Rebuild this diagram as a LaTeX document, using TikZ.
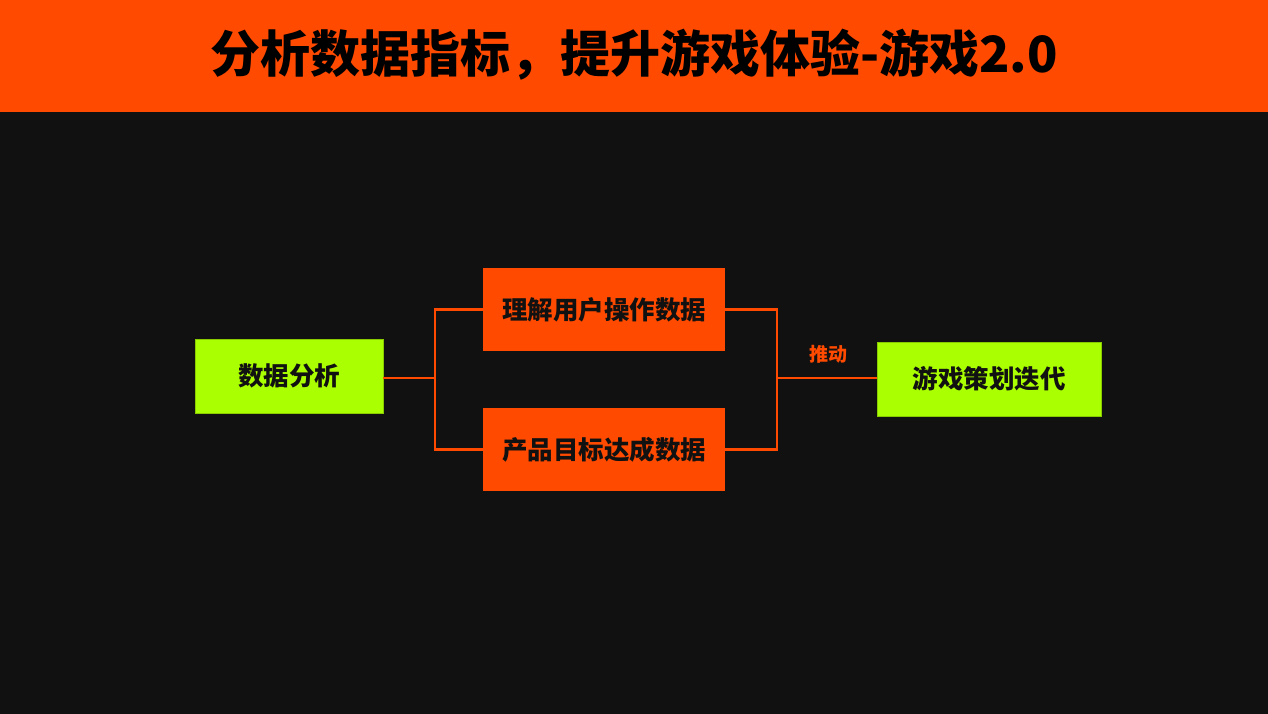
\documentclass[tikz,border=0pt]{standalone}
\usepackage{fontspec}
\setmainfont{Noto Sans CJK SC}
\newfontfamily\cjk{Noto Sans CJK SC}
\definecolor{bg}{HTML}{111111}
\definecolor{org}{HTML}{FF4A00}
\definecolor{lime}{HTML}{AAFF00}
\definecolor{ink}{HTML}{111111}
\tikzset{
  greenbox/.style={fill=lime, draw=lime!80!black, line width=0.6pt, inner sep=0pt, text=ink, font=\cjk\bfseries\fontsize{25.5}{30}\selectfont},
  orangebox/.style={fill=org, draw=none, inner sep=0pt, text=ink, font=\cjk\bfseries\fontsize{25.5}{30}\selectfont},
  conn/.style={draw=org, line width=2.2pt},
}
\begin{document}
\begin{tikzpicture}[x=1pt,y=-1pt]
\useasboundingbox (0,0) rectangle (1268,714);
\fill[bg] (0,0) rectangle (1268,714);
\fill[org] (0,0) rectangle (1268,112);
\node[font=\cjk\bfseries\fontsize{50}{56}\selectfont, text=black] (title) at (634,55) {分析数据指标，提升游戏体验-游戏2.0};
\node[greenbox, minimum width=188pt, minimum height=74pt] (a) at (289,376) {数据分析};
\node[orangebox, minimum width=242pt, minimum height=83pt] (b) at (604,309.5) {理解用户操作数据};
\node[orangebox, minimum width=242pt, minimum height=83pt] (c) at (604,449.5) {产品目标达成数据};
\node[greenbox, minimum width=224pt, minimum height=74pt] (d) at (989,379) {游戏策划迭代};
\coordinate (j1) at (435,378);
\coordinate (j2) at (777,378);
\draw[conn] (a.east |- j1) -- (j1);
\draw[conn] (b.west) -| (j1) |- (c.west);
\draw[conn] (b.east) -| (j2) |- (c.east);
\draw[conn] (j2) -- (d.west |- j2);
\node[text=org, font=\cjk\bfseries\fontsize{19}{22}\selectfont] (lbl) at (828,354) {推动};
\end{tikzpicture}
\end{document}
